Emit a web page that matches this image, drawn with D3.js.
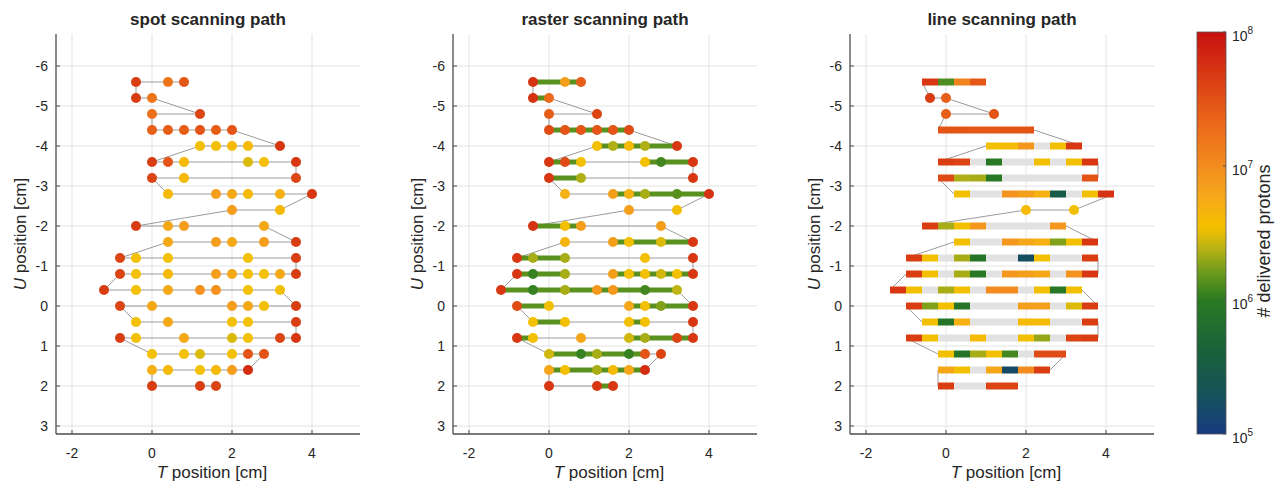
<!DOCTYPE html>
<html><head><meta charset="utf-8">
<script src="https://cdn.jsdelivr.net/npm/d3@7/dist/d3.min.js"></script>
<style>
body{margin:0;background:#fff}
svg{display:block}
text{font-family:"Liberation Sans",Arial,Helvetica,sans-serif;fill:#262626}
</style>
</head><body>
<svg id="c" width="1277" height="484"></svg>
<script>
// ---------------- data ----------------
const panelTitles = ["spot scanning path", "raster scanning path", "line scanning path"];
const xTicks = [-2, 0, 2, 4];
const yTicks = [-6, -5, -4, -3, -2, -1, 0, 1, 2, 3];
const cbTicks = [5, 6, 7, 8];

const rowU = [-5.6,-5.2,-4.8,-4.4,-4.0,-3.6,-3.2,-2.8,-2.4,-2.0,-1.6,-1.2,-0.8,-0.4,0,0.4,0.8,1.2,1.6,2.0];
const spotT = [
  [-0.4,0.4,0.8],
  [-0.4,0],
  [0,1.2],
  [0,0.4,0.8,1.2,1.6,2.0],
  [1.2,1.6,2.0,2.4,3.2],
  [0,0.4,0.8,2.4,2.8,3.6],
  [0,0.8,3.6],
  [0.4,1.6,2.0,2.4,3.2,4.0],
  [2.0,3.2],
  [-0.4,0.4,0.8,2.8],
  [0.4,1.6,2.0,2.8,3.6],
  [-0.8,-0.4,0.4,2.4,3.6],
  [-0.8,-0.4,0.4,1.6,2.0,2.4,2.8,3.2,3.6],
  [-1.2,-0.4,0.4,1.2,1.6,2.4,3.2],
  [-0.8,0,2.0,2.4,2.8,3.6],
  [-0.4,0.4,2.0,2.4,3.6],
  [-0.8,-0.4,0.8,2.0,2.4,3.2,3.6],
  [0,0.8,1.2,2.0,2.4,2.8],
  [0,0.4,1.2,1.6,2.0,2.4],
  [0,1.2,1.6]
];

// delivered protons per spot, spot scanning
const spotDose = [
  [4.5e7,1.6e7,2.8e7],
  [4.5e7,1.6e7],
  [1.8e7,4e7],
  [2.5e7,2.5e7,2.5e7,3e7,2.5e7,3e7],
  [3.5e6,3.5e6,4e6,4e6,5e7],
  [4.5e7,3e7,4e6,3e6,3.8e6,5e7],
  [4e7,4e6,4e7],
  [4e6,7e6,6e6,4e6,5e6,5e7],
  [7e6,4e6],
  [4.5e7,6e6,7e6,6e6],
  [6e6,7e6,6e6,7e6,4.5e7],
  [4e7,3.5e6,3.5e6,3.5e6,4.5e7],
  [4e7,3.5e6,4e6,7e6,6e6,3.5e6,3.5e6,6e6,4.5e7],
  [4.5e7,3.5e6,6e6,9e6,9e6,3.5e6,3.5e6],
  [4e7,6e6,7e6,6e6,3.5e6,4.5e7],
  [3.5e6,6e6,3.5e6,3.5e6,4.5e7],
  [4.5e7,3.5e6,6e6,3e6,3.5e6,4e7,5e7],
  [3.5e6,3.5e6,3e6,3.5e6,3e7,3e7],
  [5e6,4e6,3.5e6,4e6,7e6,6e7],
  [4.5e7,4.5e7,4e7]
];

// delivered protons per spot, raster scanning
const rasterDose = [
  [5.5e7,7e6,2.5e7],
  [5.5e7,2e7],
  [2.5e7,4e7],
  [3.5e7,3e7,3e7,3e7,3e7,3.5e7],
  [3.5e6,2.3e6,4e6,2.3e6,5e7],
  [5e7,3.5e7,3.5e6,3.5e6,1.2e6,5e7],
  [5e7,2.3e6,5e7],
  [5e6,7e6,5e6,2.2e6,1.4e6,5.5e7],
  [7e6,3.5e6],
  [5.5e7,3.5e6,7e6,7e6],
  [4.5e6,7e6,3.5e6,3e6,5e7],
  [5e7,2.2e6,2.2e6,3.5e6,5e7],
  [5e7,1.1e6,2.2e6,7e6,3.5e6,3.5e6,2.8e6,3.5e6,5e7],
  [5e7,1.1e6,2.2e6,8e6,8e6,1.2e6,2.5e6],
  [3.5e7,3.5e6,6e6,3.5e6,1.8e6,5e7],
  [3.5e6,3.5e6,3.5e6,3.5e6,5e7],
  [5e7,3.5e6,6e6,2.8e6,2.2e6,4e7,5e7],
  [2.8e6,1.1e6,2.2e6,1.1e6,3e7,4e7],
  [6e6,3.5e6,2.2e6,4e6,6e6,6e7],
  [5e7,5e7,5e7]
];
// beam-on moves in raster scanning: [T start, T end] per row
const rasterMoves = [
  [[-0.4,0.8]],
  [[-0.4,0]],
  [],
  [[0,2.0]],
  [[1.2,3.2]],
  [[0,0.8],[2.4,3.6]],
  [[0,0.8]],
  [[1.6,4.0]],
  [],
  [[-0.4,0.8]],
  [[1.6,3.6]],
  [[-0.8,0.4]],
  [[-0.8,0.4],[1.6,3.6]],
  [[-1.2,3.2]],
  [[-0.8,0],[2.0,3.6]],
  [[-0.4,0.4],[2.0,2.4]],
  [[-0.8,-0.4],[2.0,3.6]],
  [[0,2.4]],
  [[0,2.4]],
  [[1.2,1.6]]
];
const rasterMoveDose = 1.4e6;

// line scanning: protons per 0.4 cm segment (null = none), rows with spots listed separately
const lineDose = [
  [5e7,1.3e6,1.2e7,2.8e7],
  [],
  [],
  [3e7,3e7,2.8e7,2.8e7,3e7,3e7],
  [3.5e6,4e6,8e6,null,3.5e6,5e7],
  [4.5e7,4e7,null,9e5,null,null,3.5e6,null,3.5e6,5e7],
  [3.5e7,2.3e6,2.2e6,9e5,null,null,null,null,null,3e7],
  [3.5e6,null,null,9e6,7e6,5e6,3e5,null,3.5e6,5.5e7],
  [],
  [4.5e7,2.2e6,3.5e6,8e6,null,null,null,null,8e6],
  [3.5e6,null,null,8e6,6e6,5e6,1.8e6,3.5e6,5e7],
  [4.5e7,3.5e6,null,2.2e6,8e5,null,null,1.8e5,3.5e6,null,null,4.5e7],
  [4.5e7,3.5e6,null,2.2e6,9e5,null,8e6,7e6,6e6,null,9e6,5e7],
  [5e7,3.5e6,null,2.2e6,3.5e6,null,1e7,1e7,null,3.5e6,9e5,3.5e6],
  [4.5e7,1.8e6,3.5e6,8e5,null,null,null,7e6,7e6,null,3e6,4.5e7],
  [3.5e6,8e5,5e6,null,null,null,4e6,4e6,null,null,4.5e7],
  [4.5e7,3.5e6,null,null,4e6,null,null,3.5e6,2e6,null,4e7,4.5e7],
  [3.5e6,8e5,2.2e6,3.5e6,1.2e6,null,3.5e7,3.5e7],
  [6e6,3.5e6,null,6e6,1.6e5,1e7,4.5e7],
  [4.5e7,null,null,4e7,4e7]
];
const lineSpotRows = [1, 2, 8];
const lineSpotDose = [[4.5e7,2.5e7],[2.5e7,3e7],[4e6,3.5e6]];

// colormap (log10 protons -> colour)
const cmapLog = [5.0, 5.3, 5.6, 6.0, 6.2, 6.4, 6.55, 6.8, 7.0, 7.3, 7.6, 8.0];
const cmapCol = ["#183a80","#15525a","#18603a","#2a7a22","#6a9a1c","#c0b414","#f5c000","#f5a51c","#f28c1e","#ec6a1a","#dc4414","#c81010"];

// ---------------- drawing ----------------
const svg = d3.select("#c");
const col = d3.scaleLinear().domain(cmapLog).range(cmapCol).interpolate(d3.interpolateRgb).clamp(true);
const colorOf = v => col(Math.log10(v));

const panelLeft = [56, 453, 850];
const plotW = 304, plotTop = 34, plotH = 400;
const y = d3.scaleLinear().domain([-6.8, 3.2]).range([plotTop, plotTop + plotH]);
const SEG = 0.4, HALF = 0.2;

function rowOrder(i, arr) { const a = arr.slice(); return i % 2 === 0 ? a.reverse() : a; }

panelLeft.forEach((L, p) => {
  const x = d3.scaleLinear().domain([-2.4, 5.2]).range([L, L + plotW]);
  const g = svg.append("g");

  // grid
  g.selectAll(".gx").data(xTicks).join("line")
    .attr("x1", d => x(d)).attr("x2", d => x(d)).attr("y1", plotTop).attr("y2", plotTop + plotH)
    .attr("stroke", "#e3e3e3").attr("stroke-width", 1);
  g.selectAll(".gy").data(yTicks).join("line")
    .attr("x1", L).attr("x2", L + plotW).attr("y1", d => y(d)).attr("y2", d => y(d))
    .attr("stroke", "#e3e3e3").attr("stroke-width", 1);

  // path points
  let pts = [];
  rowU.forEach((u, i) => {
    const ts = spotT[i];
    if (p === 2 && !lineSpotRows.includes(i)) {
      const ends = [ts[0] - HALF, ts[ts.length - 1] + HALF];
      rowOrder(i, ends).forEach(t => pts.push([t, u]));
    } else {
      rowOrder(i, ts).forEach(t => pts.push([t, u]));
    }
  });
  g.append("path")
    .attr("d", d3.line().x(d => x(d[0])).y(d => y(d[1]))(pts))
    .attr("fill", "none").attr("stroke", "#9c9c9c").attr("stroke-width", 1);

  if (p === 1) {
    const moves = [];
    rasterMoves.forEach((ms, i) => ms.forEach(m => moves.push({u: rowU[i], t0: m[0], t1: m[1]})));
    g.selectAll(".mv").data(moves).join("line")
      .attr("x1", d => x(d.t0)).attr("x2", d => x(d.t1))
      .attr("y1", d => y(d.u)).attr("y2", d => y(d.u))
      .attr("stroke", colorOf(rasterMoveDose)).attr("stroke-width", 5);
  }

  const spots = [];
  if (p === 0 || p === 1) {
    const dose = p === 0 ? spotDose : rasterDose;
    rowU.forEach((u, i) => spotT[i].forEach((t, k) => spots.push({t, u, v: dose[i][k]})));
  } else {
    lineSpotRows.forEach((i, j) => spotT[i].forEach((t, k) => spots.push({t, u: rowU[i], v: lineSpotDose[j][k]})));
    const segs = [];
    rowU.forEach((u, i) => lineDose[i].forEach((v, k) => segs.push({u, t: spotT[i][0] + SEG * k, v})));
    g.selectAll(".sg").data(segs).join("rect")
      .attr("x", d => x(d.t - HALF)).attr("width", d => x(d.t + HALF) - x(d.t - HALF))
      .attr("y", d => y(d.u) - 3.5).attr("height", 7)
      .attr("fill", d => d.v == null ? "#e2e2e2" : colorOf(d.v));
  }
  g.selectAll(".sp").data(spots).join("circle")
    .attr("cx", d => x(d.t)).attr("cy", d => y(d.u)).attr("r", 5)
    .attr("fill", d => colorOf(d.v));

  // axes
  g.append("line").attr("x1", L).attr("x2", L).attr("y1", plotTop).attr("y2", plotTop + plotH)
    .attr("stroke", "#4d4d4d").attr("stroke-width", 1.3);
  g.append("line").attr("x1", L).attr("x2", L + plotW).attr("y1", plotTop + plotH).attr("y2", plotTop + plotH)
    .attr("stroke", "#4d4d4d").attr("stroke-width", 1.3);
  g.selectAll(".tx").data(xTicks).join("line")
    .attr("x1", d => x(d)).attr("x2", d => x(d)).attr("y1", plotTop + plotH).attr("y2", plotTop + plotH - 4)
    .attr("stroke", "#4d4d4d");
  g.selectAll(".ty").data(yTicks).join("line")
    .attr("x1", L).attr("x2", L + 4).attr("y1", d => y(d)).attr("y2", d => y(d))
    .attr("stroke", "#4d4d4d");
  g.selectAll(".lx").data(xTicks).join("text")
    .attr("x", d => x(d)).attr("y", 458).attr("text-anchor", "middle")
    .attr("font-size", 14).attr("fill", "#333").text(d => d);
  g.selectAll(".ly").data(yTicks).join("text")
    .attr("x", L - 8).attr("y", d => y(d) + 5).attr("text-anchor", "end")
    .attr("font-size", 14).attr("fill", "#333").text(d => d);

  // titles and labels
  g.append("text").attr("x", L + plotW / 2).attr("y", 25).attr("text-anchor", "middle")
    .attr("font-size", 17).attr("font-weight", "bold").text(panelTitles[p]);
  const xl = g.append("text").attr("x", x(1.5)).attr("y", 478).attr("text-anchor", "middle").attr("font-size", 17);
  xl.append("tspan").attr("font-style", "italic").text("T");
  xl.append("tspan").text(" position [cm]");
  const yl = g.append("text").attr("transform", `translate(${L - 30},${plotTop + plotH / 2}) rotate(-90)`)
    .attr("text-anchor", "middle").attr("font-size", 17);
  yl.append("tspan").attr("font-style", "italic").text("U");
  yl.append("tspan").text(" position [cm]");
});

// colorbar
const cbX = 1197, cbW = 29, cbTop = 32, cbBot = 434;
const cy = d3.scaleLinear().domain([5, 8]).range([cbBot, cbTop]);
const grad = svg.append("defs").append("linearGradient").attr("id", "cbg")
  .attr("x1", 0).attr("y1", 1).attr("x2", 0).attr("y2", 0);
cmapLog.forEach((l, i) => grad.append("stop").attr("offset", (l - 5) / 3).attr("stop-color", cmapCol[i]));
svg.append("rect").attr("x", cbX).attr("y", cbTop).attr("width", cbW).attr("height", cbBot - cbTop)
  .attr("fill", "url(#cbg)").attr("stroke", "#555").attr("stroke-width", 0.8);
svg.selectAll(".cbt").data(cbTicks).join("line")
  .attr("x1", cbX + cbW).attr("x2", cbX + cbW - 3).attr("y1", d => cy(d)).attr("y2", d => cy(d))
  .attr("stroke", "#555");
const cbl = svg.selectAll(".cbl").data(cbTicks).join("text")
  .attr("x", 1232).attr("y", d => cy(d) + 9).attr("font-size", 14).attr("fill", "#333");
cbl.append("tspan").text("10");
cbl.append("tspan").attr("dy", -7).attr("font-size", 10).text(d => d);
svg.append("text").attr("transform", `translate(1270,${(cbTop + cbBot) / 2 + 8}) rotate(-90)`)
  .attr("text-anchor", "middle").attr("font-size", 18).text("# delivered protons");
</script>
</body></html>
